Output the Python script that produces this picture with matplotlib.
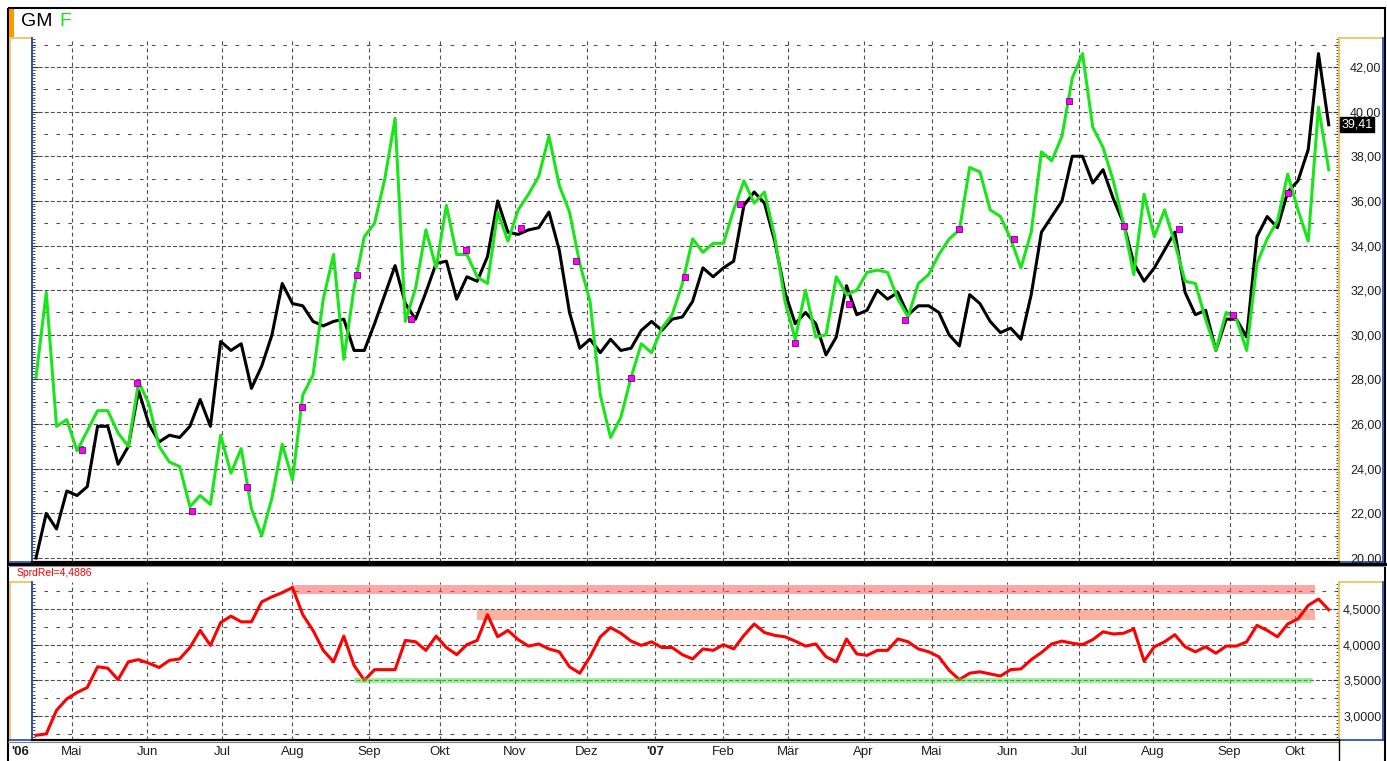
import numpy as np
import matplotlib
matplotlib.use('Agg')
import matplotlib.pyplot as plt
from matplotlib.patches import Rectangle
from matplotlib.ticker import MultipleLocator, FuncFormatter
from matplotlib.transforms import blended_transform_factory

plt.rcParams['font.family'] = ['Liberation Sans', 'DejaVu Sans']
plt.rcParams['lines.scale_dashes'] = False

W, H = 1387, 761

# closing prices, one value every 3 trading days (mid-April 2006 .. mid-October 2007)
gm = [20.0, 22.0, 21.3, 23.0, 22.8, 23.2, 25.9, 25.9, 24.2, 25.0,
      27.5, 26.0, 25.2, 25.5, 25.4, 25.9, 27.1, 25.9, 29.7, 29.3,
      29.6, 27.6, 28.6, 30.0, 32.3, 31.4, 31.3, 30.6, 30.4, 30.6,
      30.7, 29.3, 29.3, 30.5, 31.8, 33.1, 31.4, 30.7, 31.9, 33.2,
      33.3, 31.6, 32.6, 32.4, 33.5, 36.0, 34.6, 34.5, 34.7, 34.8,
      35.5, 33.8, 31.0, 29.4, 29.8, 29.2, 29.8, 29.3, 29.4, 30.2,
      30.6, 30.2, 30.7, 30.8, 31.5, 33.0, 32.6, 33.0, 33.3, 35.8,
      36.4, 35.9, 34.2, 31.9, 30.5, 31.0, 30.5, 29.1, 29.9, 32.2,
      30.9, 31.1, 32.0, 31.6, 31.9, 30.9, 31.3, 31.3, 31.0, 30.0,
      29.5, 31.8, 31.4, 30.6, 30.1, 30.3, 29.8, 31.8, 34.6, 35.3,
      36.0, 38.0, 38.0, 36.8, 37.4, 36.1, 35.0, 33.2, 32.4, 33.0,
      33.8, 34.6, 31.9, 30.9, 31.1, 29.3, 30.7, 30.7, 29.9, 34.4,
      35.3, 34.8, 36.4, 36.9, 38.3, 42.6, 39.41]

f = [28.1, 31.9, 25.9, 26.2, 24.8, 25.7, 26.6, 26.6, 25.6, 25.0,
     27.9, 26.9, 25.0, 24.3, 24.1, 22.3, 22.8, 22.4, 25.5, 23.8,
     24.9, 22.2, 21.0, 22.7, 25.1, 23.5, 27.3, 28.2, 31.6, 33.6,
     28.9, 32.1, 34.4, 35.0, 37.0, 39.7, 30.6, 32.1, 34.7, 33.0,
     35.8, 33.6, 33.6, 32.6, 32.3, 35.5, 34.2, 35.6, 36.3, 37.1,
     38.9, 36.7, 35.5, 33.2, 31.5, 27.3, 25.4, 26.3, 28.1, 29.6,
     29.2, 30.3, 30.9, 32.3, 34.3, 33.7, 34.1, 34.1, 35.6, 36.9,
     35.9, 36.4, 34.4, 31.5, 29.8, 32.0, 29.9, 30.0, 32.6, 31.8,
     32.0, 32.8, 32.9, 32.8, 31.6, 30.8, 32.3, 32.7, 33.6, 34.3,
     34.7, 37.5, 37.3, 35.6, 35.3, 34.3, 33.0, 34.6, 38.2, 37.8,
     38.9, 41.5, 42.6, 39.3, 38.4, 36.9, 35.0, 32.7, 36.3, 34.4,
     35.6, 34.1, 32.4, 32.3, 30.7, 29.3, 31.0, 30.7, 29.3, 33.2,
     34.3, 35.1, 37.2, 35.6, 34.2, 40.2, 37.4]

spread = [2.73, 2.75, 3.08, 3.24, 3.33, 3.40, 3.69, 3.67, 3.51, 3.76,
          3.79, 3.74, 3.68, 3.78, 3.80, 3.96, 4.20, 3.99, 4.31, 4.40,
          4.32, 4.32, 4.60, 4.67, 4.73, 4.80, 4.42, 4.20, 3.92, 3.76,
          4.12, 3.71, 3.50, 3.65, 3.65, 3.65, 4.06, 4.04, 3.92, 4.12,
          3.96, 3.86, 4.00, 4.06, 4.42, 4.11, 4.20, 4.07, 3.98, 4.01,
          3.94, 3.90, 3.69, 3.60, 3.83, 4.11, 4.24, 4.16, 4.05, 3.99,
          4.04, 3.96, 3.96, 3.86, 3.80, 3.94, 3.92, 4.00, 3.94, 4.13,
          4.29, 4.17, 4.13, 4.11, 4.05, 3.98, 4.01, 3.83, 3.76, 4.08,
          3.87, 3.85, 3.92, 3.92, 4.08, 4.04, 3.94, 3.90, 3.83, 3.64,
          3.51, 3.60, 3.62, 3.59, 3.56, 3.65, 3.66, 3.79, 3.89, 4.01,
          4.05, 4.02, 4.00, 4.07, 4.18, 4.15, 4.16, 4.22, 3.77, 3.97,
          4.04, 4.14, 3.97, 3.90, 3.97, 3.88, 3.98, 3.98, 4.04, 4.27,
          4.20, 4.11, 4.29, 4.36, 4.55, 4.64, 4.4886]

days = np.arange(len(gm)) * 3  # trading day index

# small magenta markers on F
mark_days = [13.5, 29.5, 45.6, 61.7, 77.8, 93.9, 109.6, 125.7, 141.8, 157.9, 173.9, 189.8,
             205.8, 221.9, 237.7, 254.1, 269.9, 285.9, 302.0, 318.1, 334.2, 350.0, 366.1]
mark_vals = [24.86, 27.86, 22.11, 23.16, 26.78, 32.67, 30.72, 33.8, 34.77, 33.3, 28.05, 32.6,
             35.85, 29.64, 31.4, 30.67, 34.72, 34.29, 40.49, 34.88, 34.72, 30.9, 36.34]

month_days = [10.5, 32.5, 54.5, 75, 97.5, 118, 140, 161, 181, 201, 220, 242,
              262, 284, 305, 326.5, 349, 368]
month_labels = ['Mai', 'Jun', 'Jul', 'Aug', 'Sep', 'Okt', 'Nov', 'Dez', "'07", 'Feb',
                'Mär', 'Apr', 'Mai', 'Jun', 'Jul', 'Aug', 'Sep', 'Okt']

# spread levels: (start day, end day, low, high)
band_top = (74.6, 374.0, 4.71, 4.83)
band_mid = (129.0, 374.0, 4.35, 4.49)
support = (93.0, 373.0, 3.5)

XMIN, XMAX = -1.17, 381.0
GRID = '#505050'
GREEN = '#19e619'
GOLD = '#f0c050'
BLUE = '#2040b0'


def box(l, t, r, b):
    return [l / W, 1 - b / H, (r - l) / W, (b - t) / H]


fig = plt.figure(figsize=(W / 100, H / 100), dpi=100, facecolor='white')
bg = fig.add_axes([0, 0, 1, 1], zorder=-1)
bg.set_xlim(0, W)
bg.set_ylim(H, 0)
bg.axis('off')

ax1 = fig.add_axes(box(32, 38, 1339, 562))
ax2 = fig.add_axes(box(32, 582, 1339, 740))


def grid(ax, majors, minors):
    for d in month_days:
        ax.axvline(d, color=GRID, lw=0.8, ls=(0, (2.9, 2.2)), zorder=1)
    for v in majors:
        ax.axhline(v, color=GRID, lw=0.8, ls=(0, (2.9, 1.5)), zorder=1)
    for v in minors:
        ax.axhline(v, color=GRID, lw=0.8, ls=(0, (2.6, 6.0)), zorder=1)


def frame(ax):
    ax.spines['top'].set_visible(False)
    ax.spines['left'].set_color(BLUE)
    ax.spines['left'].set_linewidth(1.3)
    ax.spines['right'].set_color(GOLD)
    ax.spines['right'].set_linewidth(1.3)
    ax.spines['bottom'].set_color('black')
    ax.spines['bottom'].set_linewidth(1.6)
    ax.set_xlim(XMIN, XMAX)


# ---- price panel
maj1 = np.arange(20, 43, 2)
grid(ax1, maj1, np.arange(21, 44, 2))
ax1.plot(days, gm, color='black', lw=2.2, zorder=3, solid_joinstyle='round')
ax1.plot(days, f, color=GREEN, lw=2.2, zorder=4, solid_joinstyle='round')
ax1.plot(mark_days, mark_vals, 's', ms=4, mfc='#ff00ff', mec='#7a007a', mew=0.6, zorder=5)
ax1.set_ylim(19.82, 43.3)
frame(ax1)
ax1.set_xticks([])
ax1.set_yticks(maj1)
ax1.yaxis.set_minor_locator(MultipleLocator(0.125))
ax1.yaxis.set_major_formatter(FuncFormatter(lambda v, p: f'{v:.2f}'.replace('.', ',')))
ax1.tick_params(axis='y', which='both', direction='in', left=True, right=True,
                labelleft=False, labelright=True, color='#303040', labelsize=9,
                labelcolor='#202020')
ax1.tick_params(axis='y', which='major', length=4, pad=8)
ax1.tick_params(axis='y', which='minor', length=2.2)

tr = blended_transform_factory(ax1.transAxes, ax1.transData)
ax1.text(1.002, gm[-1], f'{gm[-1]:.2f}'.replace('.', ','), transform=tr, ha='left', va='center',
         color='white', fontsize=9, zorder=6, clip_on=False,
         bbox=dict(boxstyle='square,pad=0.12', fc='black', ec='black'))

# ---- spread panel
maj2 = [3.0, 3.5, 4.0, 4.5]
grid(ax2, maj2, [2.75, 3.25, 3.75, 4.25, 4.75])
ax2.fill_between([band_top[0], band_top[1]], band_top[2], band_top[3],
                 color='#ff5050', alpha=0.5, lw=0, zorder=2)
ax2.fill_between([band_mid[0], band_mid[1]], band_mid[2], band_mid[3],
                 color='#ff7050', alpha=0.55, lw=0, zorder=2)
ax2.plot(days, spread, color='#ff0000', lw=2.2, zorder=3, solid_joinstyle='round')
ax2.plot([support[0], support[1]], [support[2], support[2]], color='#40e040',
         lw=3.6, alpha=0.5, zorder=4, solid_capstyle='butt')
ax2.set_ylim(2.664, 4.878)
frame(ax2)
ax2.set_yticks(maj2)
ax2.yaxis.set_minor_locator(MultipleLocator(0.05))
ax2.yaxis.set_major_formatter(FuncFormatter(lambda v, p: f'{v:.4f}'.replace('.', ',')))
ax2.tick_params(axis='y', which='both', direction='in', left=True, right=True,
                labelleft=False, labelright=True, color='#303040', labelsize=9,
                labelcolor='#202020')
ax2.tick_params(axis='y', which='major', length=4, pad=3)
ax2.tick_params(axis='y', which='minor', length=2.2)
ax2.set_xticks(month_days)
ax2.set_xticklabels(month_labels)
ax2.tick_params(axis='x', length=0, pad=4, labelsize=9.5, labelcolor='#202020')
for lab in ax2.get_xticklabels():
    if lab.get_text().startswith("'"):
        lab.set_fontweight('bold')

# ---- frame decorations (pixel coordinates)
bg.add_patch(Rectangle((8, 8), W - 10, H, fill=False, ec='black', lw=1.5))
bg.add_patch(Rectangle((9, 9), 5, 28, fc='#ff9900', ec='none'))
for top, bot in ((38, 562), (582, 740)):
    bg.plot([10, 10], [top, bot], color=GOLD, lw=1.2)
    bg.plot([10, 32], [top, top], color=GOLD, lw=1.2)
    bg.plot([10, 32], [bot, bot], color=BLUE, lw=1.2)
    bg.plot([1339, 1383], [top, top], color=GOLD, lw=1.2)
    bg.plot([1383, 1383], [top, bot], color=BLUE, lw=1.2)
    bg.plot([1339, 1383], [bot, bot], color=BLUE, lw=1.2)
bg.plot([8, 1385], [563.5, 563.5], color='black', lw=2.2)
bg.plot([8, 1385], [566, 566], color='#909090', lw=0.8)
bg.plot([8, 1339], [741.5, 741.5], color='#808080', lw=0.8)
bg.plot([1339, 1339], [740, H], color='black', lw=1.0)

bg.text(21, 22, 'GM', fontsize=14, color='black', va='center', ha='left')
bg.text(59, 22, 'F', fontsize=14, color=GREEN, va='center', ha='left')
bg.text(17, 573, f'SprdRel={spread[-1]:.4f}'.replace('.', ','), fontsize=7.5,
        color='#ff0000', va='center', ha='left')
bg.text(20, 752, "'06", fontsize=9.5, fontweight='bold', color='#202020',
        va='center', ha='center')

fig.savefig('out.png', dpi=100, facecolor='white')
